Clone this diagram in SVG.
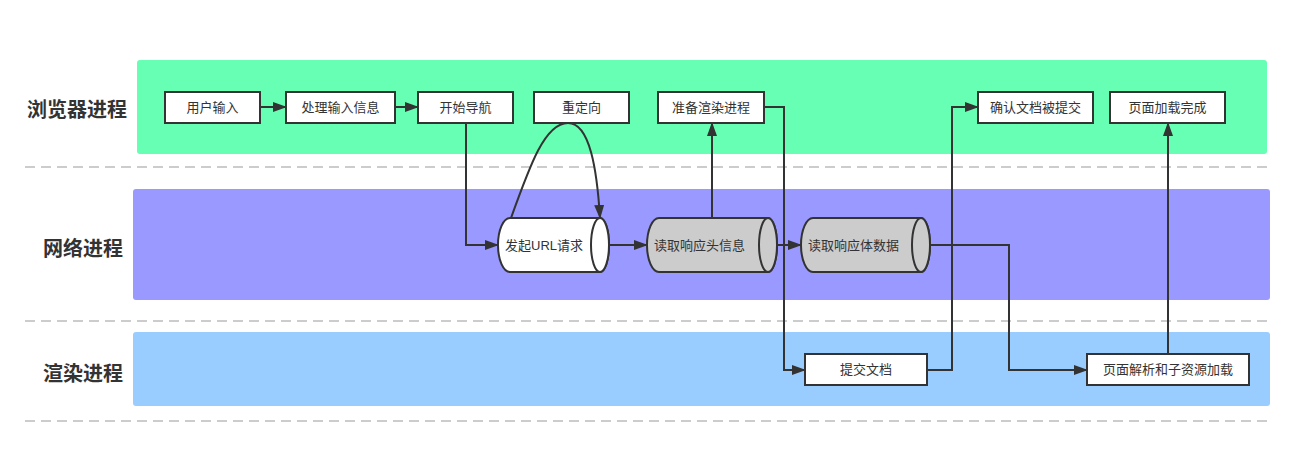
<svg xmlns="http://www.w3.org/2000/svg" width="1296" height="458" viewBox="0 0 1296 458">
<style>
text{font-family:"Liberation Sans","Noto Sans CJK SC",sans-serif;fill:#333}
.lbl{font-size:20px;font-weight:bold;text-anchor:end;dominant-baseline:central}
.t{font-size:13px;text-anchor:middle;dominant-baseline:central}
.tl{font-size:13px;dominant-baseline:central}
.box{fill:#fff;stroke:#333;stroke-width:2}
.cyl{stroke:#333;stroke-width:2}
.sep{stroke:#999;stroke-width:1;stroke-dasharray:10 6;fill:none}
.c{fill:none;stroke:#333;stroke-width:2}
</style>
<defs>
<marker id="ah" markerUnits="userSpaceOnUse" markerWidth="14" markerHeight="10" refX="13" refY="5" orient="auto">
<path d="M0,0 L14,5 L0,10 Z" fill="#333"/>
</marker>
</defs>
<g id="lanes">
<rect x="137" y="60" width="1130" height="94" rx="3" fill="#66FFB3"/>
<rect x="133" y="189" width="1137" height="111" rx="3" fill="#9999FF"/>
<rect x="133" y="332" width="1137" height="74" rx="3" fill="#99CCFF"/>
<line class="sep" x1="25" y1="167" x2="1267" y2="167"/>
<line class="sep" x1="25" y1="321" x2="1267" y2="321"/>
<line class="sep" x1="25" y1="421" x2="1267" y2="421"/>
<text class="lbl" x="127" y="110">浏览器进程</text>
<text class="lbl" x="123" y="249">网络进程</text>
<text class="lbl" x="123" y="374">渲染进程</text>
</g>
<g id="connectors">
<path class="c" d="M260,107 H286" marker-end="url(#ah)"/>
<path class="c" d="M395,107 H418" marker-end="url(#ah)"/>
<path class="c" d="M466,123 V245 H498" marker-end="url(#ah)"/>
<path class="c" d="M511,218 C530,165 545,123 568,123 C590,123 597,170 600,218" marker-end="url(#ah)"/>
<path class="c" d="M609,245 H647" marker-end="url(#ah)"/>
<path class="c" d="M712,218 V123" marker-end="url(#ah)"/>
<path class="c" d="M764,107 H784 V370 H805" marker-end="url(#ah)"/>
<path class="c" d="M777,245 H801" marker-end="url(#ah)"/>
<path class="c" d="M927,370 H952 V107 H978" marker-end="url(#ah)"/>
<path class="c" d="M930,245 H1009 V370 H1087" marker-end="url(#ah)"/>
<path class="c" d="M1168,353 V123" marker-end="url(#ah)"/>
</g>
<g id="n-input"><rect class="box" x="165" y="92" width="95" height="31"/><text class="t" x="212.5" y="107.5">用户输入</text></g>
<g id="n-process"><rect class="box" x="286" y="92" width="109" height="31"/><text class="t" x="340.5" y="107.5">处理输入信息</text></g>
<g id="n-nav"><rect class="box" x="418" y="92" width="95" height="31"/><text class="t" x="465.5" y="107.5">开始导航</text></g>
<g id="n-redirect"><rect class="box" x="534" y="92" width="95" height="31"/><text class="t" x="581.5" y="107.5">重定向</text></g>
<g id="n-prepare"><rect class="box" x="658" y="92" width="106" height="31"/><text class="t" x="711" y="107.5">准备渲染进程</text></g>
<g id="n-confirm"><rect class="box" x="978" y="92" width="115" height="31"/><text class="t" x="1035.5" y="107.5">确认文档被提交</text></g>
<g id="n-done"><rect class="box" x="1110" y="92" width="115" height="31"/><text class="t" x="1167.5" y="107.5">页面加载完成</text></g>
<g id="n-url">
<path class="cyl" fill="#fff" d="M510,218 H600 A9,27 0 0 1 600,272 H510 A12,27 0 0 1 510,218 Z"/>
<ellipse class="cyl" fill="#fff" cx="600" cy="245" rx="9" ry="27"/>
<text class="tl" x="505" y="245">发起URL请求</text>
</g>
<g id="n-header">
<path class="cyl" fill="#ccc" d="M659,218 H768 A9,27 0 0 1 768,272 H659 A12,27 0 0 1 659,218 Z"/>
<ellipse class="cyl" fill="#ccc" cx="768" cy="245" rx="9" ry="27"/>
<text class="tl" x="654" y="245">读取响应头信息</text>
</g>
<g id="n-body">
<path class="cyl" fill="#ccc" d="M813,218 H921 A9,27 0 0 1 921,272 H813 A12,27 0 0 1 813,218 Z"/>
<ellipse class="cyl" fill="#ccc" cx="921" cy="245" rx="9" ry="27"/>
<text class="tl" x="808" y="245">读取响应体数据</text>
</g>
<g id="n-commit"><rect class="box" x="805" y="354" width="122" height="31"/><text class="t" x="866" y="369.5">提交文档</text></g>
<g id="n-parse"><rect class="box" x="1087" y="354" width="162" height="31"/><text class="t" x="1168" y="369.5">页面解析和子资源加载</text></g>
</svg>
